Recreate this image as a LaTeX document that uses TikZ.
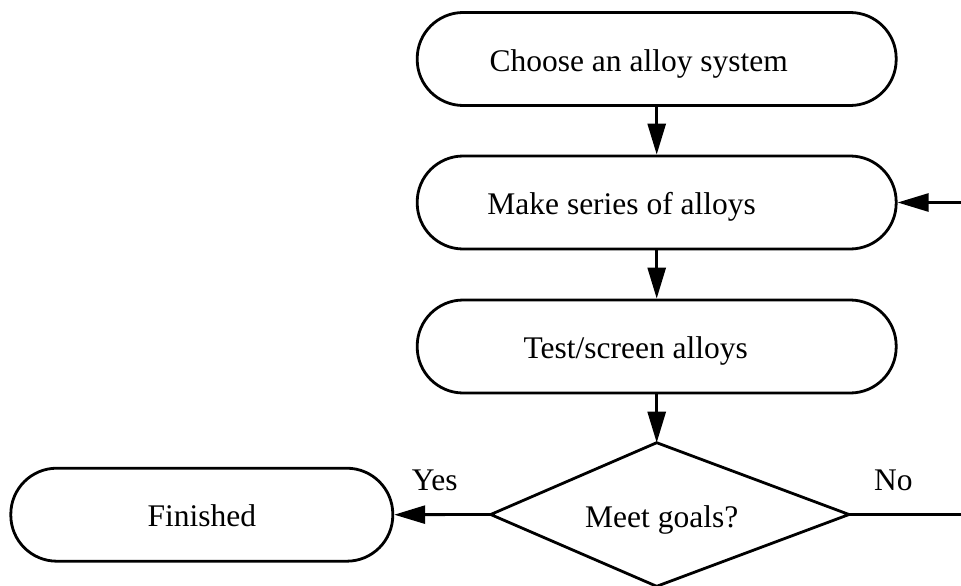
\documentclass[tikz,border=0pt]{standalone}
\usepackage{fontspec}
\setmainfont{Liberation Serif}
\usetikzlibrary{arrows.meta}
\begin{document}
\begin{tikzpicture}[x=1pt,y=-1pt,
  every node/.style={font=\fontsize{31.5}{36}\selectfont},
  term/.style={draw,line width=2.8pt,rounded corners=46pt,minimum width=479pt,minimum height=93pt,inner sep=0pt,text height=24pt,text depth=0pt},
  fin/.style={draw,line width=2.8pt,rounded corners=46pt,minimum width=382pt,minimum height=93pt,inner sep=0pt,text height=24pt,text depth=0pt},
  dtext/.style={inner sep=0pt,text height=24pt,text depth=0pt},
  shapeline/.style={line width=2.8pt,line join=miter},
  conn/.style={line width=2.8pt,-{Triangle[length=31pt,width=18pt]}},
  lbl/.style={inner sep=0pt,anchor=base}]
\useasboundingbox (0,0) rectangle (961,586);
\node[term] (b1) at (656.7,59) {\hspace*{-36pt}Choose an alloy system};
\node[term] (b2) at (656.7,202.5) {\hspace*{-70pt}Make series of alloys};
\node[term] (b3) at (656.7,346.5) {\hspace*{-42pt}Test/screen alloys};
\node[fin] (f) at (201.8,514.7) {Finished};
% decision diamond (asymmetric in the original)
\coordinate (dl) at (490.7,514.5);
\coordinate (dt) at (656.7,442.7);
\coordinate (dr) at (849,514.5);
\coordinate (db) at (656.7,586.3);
\draw[shapeline] (dl) -- (dt) -- (dr) -- (db) -- cycle;
\node[dtext] (d) at (661.7,515.5) {Meet goals?};
\node[lbl] (yes) at (434.7,490) {Yes};
\node[lbl] (no) at (893.3,490.7) {No};
\coordinate (r1) at (980,514.5);
\coordinate (r2) at (980,202.5);
\draw[conn] (b1.south) -- (b2.north);
\draw[conn] (b2.south) -- (b3.north);
\draw[conn] (b3.south) -- (dt);
\draw[conn] (dl) -- (f.east);
\draw[conn] (dr) -- (r1) -- (r2) -- (b2.east);
\end{tikzpicture}
\end{document}
